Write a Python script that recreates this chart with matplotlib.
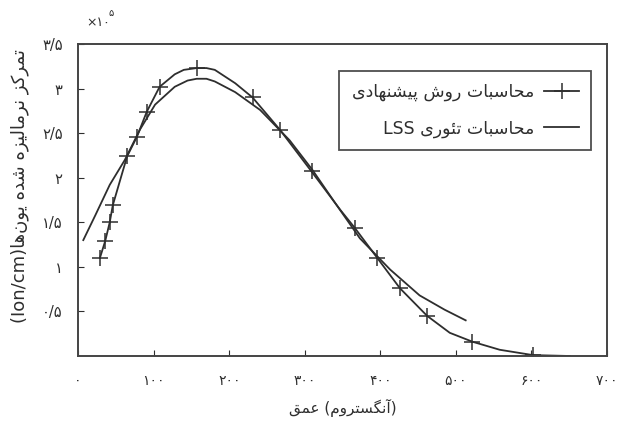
import matplotlib
matplotlib.use("Agg")
import matplotlib.pyplot as plt
from matplotlib.lines import Line2D

# ---------------- data (x in Angstrom, y in 1e5 Ion/cm) ----
prop_x = [29, 36, 42, 46, 56, 65, 78, 91, 108, 128, 140, 157, 170, 181, 208, 231, 267, 309,
          347, 366, 396, 426, 462, 492, 522, 558, 602, 651]
prop_y = [1.10, 1.29, 1.50, 1.69, 1.98, 2.24, 2.46, 2.74, 3.02, 3.16, 3.21, 3.23, 3.23, 3.21,
          3.06, 2.90, 2.54, 2.07, 1.64, 1.44, 1.10, 0.76, 0.45, 0.26, 0.16, 0.07, 0.01, 0.0]
prop_marks = [0, 1, 2, 3, 5, 6, 7, 8, 11, 15, 16, 17, 19, 20, 21, 22, 24, 26]

lss_x = [7, 23, 42, 62, 82, 102, 128, 145, 157, 170, 181, 208, 241, 280, 310, 340, 373, 413,
         452, 485, 513]
lss_y = [1.30, 1.58, 1.92, 2.20, 2.54, 2.82, 3.02, 3.09, 3.11, 3.11, 3.08, 2.96, 2.76, 2.42,
         2.09, 1.72, 1.32, 0.97, 0.68, 0.52, 0.40]

x_ticks = [0, 100, 200, 300, 400, 500, 600, 700]
y_ticks = [0.5, 1.0, 1.5, 2.0, 2.5, 3.0, 3.5]

# ---------------- minimal Persian shaping (matplotlib has no bidi/shaping) ----------------
FORMS = {  # isolated, final, initial, medial
    'ا': ('\uFE8D', '\uFE8E', None, None),
    'آ': ('\uFE81', '\uFE82', None, None),
    'ب': ('\uFE8F', '\uFE90', '\uFE91', '\uFE92'),
    'ت': ('\uFE95', '\uFE96', '\uFE97', '\uFE98'),
    'ح': ('\uFEA1', '\uFEA2', '\uFEA3', '\uFEA4'),
    'د': ('\uFEA9', '\uFEAA', None, None),
    'ر': ('\uFEAD', '\uFEAE', None, None),
    'ز': ('\uFEAF', '\uFEB0', None, None),
    'س': ('\uFEB1', '\uFEB2', '\uFEB3', '\uFEB4'),
    'ش': ('\uFEB5', '\uFEB6', '\uFEB7', '\uFEB8'),
    'ع': ('\uFEC9', '\uFECA', '\uFECB', '\uFECC'),
    'ق': ('\uFED5', '\uFED6', '\uFED7', '\uFED8'),
    'ک': ('\uFB8E', '\uFB8F', '\uFB90', '\uFB91'),
    'گ': ('\uFB92', '\uFB93', '\uFB94', '\uFB95'),
    'ل': ('\uFEDD', '\uFEDE', '\uFEDF', '\uFEE0'),
    'م': ('\uFEE1', '\uFEE2', '\uFEE3', '\uFEE4'),
    'ن': ('\uFEE5', '\uFEE6', '\uFEE7', '\uFEE8'),
    'ه': ('\uFEE9', '\uFEEA', '\uFEEB', '\uFEEC'),
    'و': ('\uFEED', '\uFEEE', None, None),
    'ی': ('\uFBFC', '\uFBFD', '\uFBFE', '\uFBFF'),
    'ئ': ('\uFE89', '\uFE8A', '\uFE8B', '\uFE8C'),
    'پ': ('\uFB56', '\uFB57', '\uFB58', '\uFB59'),
}


def shape(word):
    """Return the word in presentation forms, in visual (left-to-right) order."""
    out = []
    n = len(word)
    for i, c in enumerate(word):
        if c == '\u200c':
            continue
        if c not in FORMS:
            out.append(c)
            continue
        iso, fin, ini, med = FORMS[c]
        prev = word[i - 1] if i > 0 else None
        nxt = word[i + 1] if i < n - 1 else None
        jp = prev in FORMS and FORMS[prev][2] is not None
        jn = nxt in FORMS and ini is not None
        if jp and jn:
            out.append(med)
        elif jp:
            out.append(fin)
        elif jn:
            out.append(ini)
        else:
            out.append(iso)
    return ''.join(reversed(out))


def rtl(words):
    """Logical word list -> visual string (right-to-left line)."""
    return ' '.join(shape(w) if any(ch in FORMS for ch in w) else w
                    for w in reversed(words))


PD = str.maketrans('0123456789', '۰۱۲۳۴۵۶۷۸۹')


def fa_num(v):
    s = ('%g' % v).replace('.', '/')
    return s.translate(PD)


legend_prop = rtl(['محاسبات', 'روش', 'پیشنهادی'])
legend_lss = rtl(['محاسبات', 'تئوری', 'LSS'])
xlabel = shape('عمق') + ' (' + shape('آنگستروم') + ')'
ylabel = '(Ion/cm)' + rtl(['تمرکز', 'نرمالیزه', 'شده', 'یون\u200cها'])

plt.rcParams['font.family'] = ['DejaVu Sans']
ink = '#2e2e2e'

fig = plt.figure(figsize=(6.18, 4.22), dpi=100)
ax = fig.add_axes([78 / 618, 1 - 356 / 422, (607 - 78) / 618, (356 - 44) / 422])

ax.plot(prop_x, prop_y, color=ink, lw=1.3, marker='+', markersize=11,
        markeredgewidth=1.1, markevery=prop_marks)
ax.plot(lss_x, lss_y, color=ink, lw=1.3)

ax.set_xlim(0, 700)
ax.set_ylim(0, 3.5)
ax.set_xticks(x_ticks)
ax.set_xticklabels([fa_num(v) for v in x_ticks], fontsize=10, color=ink)
ax.set_yticks(y_ticks)
ax.set_yticklabels([fa_num(v) for v in y_ticks], fontsize=10.5, color=ink)
ax.tick_params(axis='x', direction='in', length=4, pad=13, color=ink)
ax.tick_params(axis='y', direction='in', length=4, pad=11, color=ink)
for s in ax.spines.values():
    s.set_linewidth(1.4)
    s.set_color('#444444')

ax.set_xlabel(xlabel, fontsize=11, color=ink, labelpad=8)
fig.text(20 / 618, 1 - 186 / 422, ylabel, rotation=90, ha='center', va='center',
         fontsize=13, color=ink)

fig.text(86 / 618, 1 - 22 / 422, '×' + '10'.translate(PD), fontsize=9, color=ink,
         ha='left', va='center')
fig.text(109 / 618, 1 - 13 / 422, '5'.translate(PD), fontsize=7, color=ink,
         ha='left', va='center')

handles = [Line2D([], [], color=ink, lw=1.3, marker='+', markersize=11, markeredgewidth=1.1),
           Line2D([], [], color=ink, lw=1.3)]
leg = ax.legend(handles, [legend_prop, legend_lss], loc='upper right',
                bbox_to_anchor=(0.97, 0.915), fontsize=12.5, frameon=True, fancybox=False,
                edgecolor='#222222', handlelength=2.0, borderpad=0.7, labelspacing=1.05,
                handletextpad=0.6, markerfirst=False, borderaxespad=0.0)
leg.get_frame().set_linewidth(1.3)
for t in leg.get_texts():
    t.set_color(ink)

fig.savefig('out.png', dpi=100)
